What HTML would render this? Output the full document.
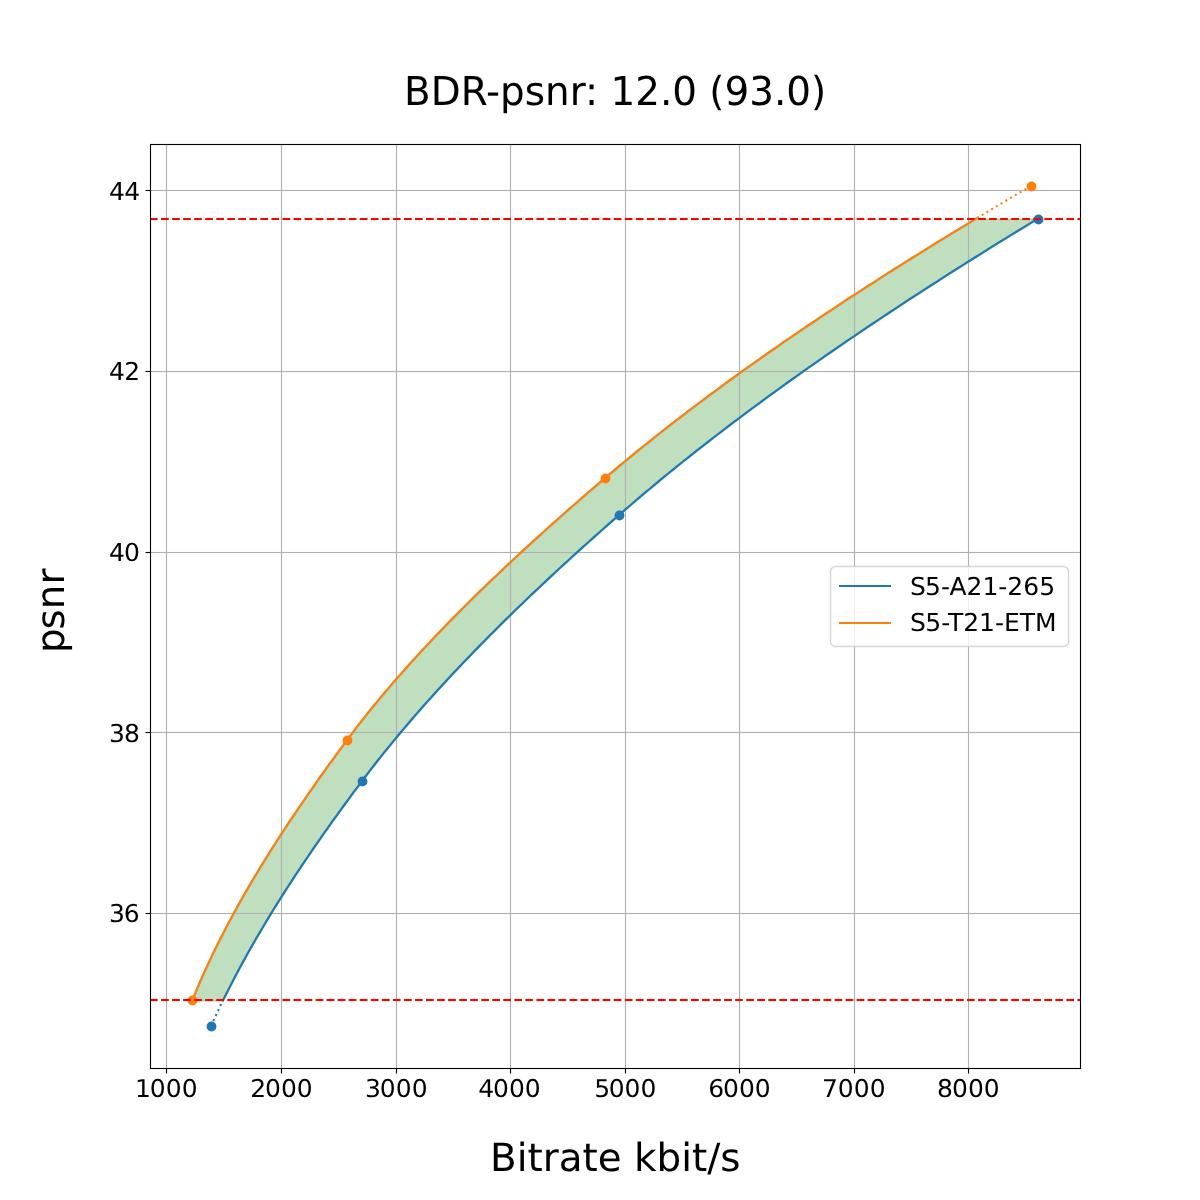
<!DOCTYPE html>
<html lang="en"><head><meta charset="utf-8"><title>BDR-psnr: 12.0 (93.0)</title>
<style>html,body{margin:0;padding:0;background:#fff;width:1200px;height:1200px;overflow:hidden}</style></head>
<body>
<svg width="1200" height="1200" viewBox="0 0 1200 1200" style="display:block;position:absolute;left:0;top:0" font-family="'DejaVu Sans', 'Liberation Sans', sans-serif" fill="#000" text-rendering="geometricPrecision">
<rect x="0" y="0" width="1200" height="1200" fill="#fff"/>
<defs><clipPath id="ax"><rect x="150" y="144" width="930" height="924"/></clipPath></defs>
<polygon points="192.27,1000.40 193.85,996.47 195.47,992.54 197.11,988.62 198.77,984.69 200.47,980.76 202.19,976.83 203.95,972.90 205.72,968.97 207.53,965.05 209.36,961.12 211.22,957.19 213.10,953.26 215.01,949.33 216.94,945.41 218.90,941.48 220.88,937.55 222.89,933.62 224.93,929.69 226.98,925.77 229.07,921.84 231.17,917.91 233.30,913.98 235.45,910.05 237.62,906.12 239.82,902.20 242.04,898.27 244.28,894.34 246.54,890.41 248.83,886.48 251.13,882.56 253.46,878.63 255.81,874.70 258.17,870.77 260.56,866.84 262.97,862.92 265.40,858.99 267.85,855.06 270.31,851.13 272.80,847.20 275.30,843.27 277.83,839.35 280.37,835.42 282.93,831.49 285.50,827.56 288.10,823.63 290.71,819.71 293.34,815.78 295.98,811.85 298.64,807.92 301.32,803.99 304.02,800.06 306.73,796.14 309.45,792.21 312.19,788.28 314.94,784.35 317.71,780.42 320.50,776.50 323.29,772.57 326.11,768.64 328.93,764.71 331.77,760.78 334.62,756.86 337.49,752.93 340.36,749.00 343.25,745.07 346.15,741.14 349.07,737.21 352.03,733.29 355.01,729.36 358.04,725.43 361.09,721.50 364.18,717.57 367.31,713.65 370.47,709.72 373.66,705.79 376.88,701.86 380.14,697.93 383.43,694.01 386.75,690.08 390.10,686.15 393.48,682.22 396.90,678.29 400.34,674.36 403.82,670.44 407.32,666.51 410.86,662.58 414.42,658.65 418.02,654.72 421.64,650.80 425.29,646.87 428.97,642.94 432.68,639.01 436.41,635.08 440.18,631.15 443.96,627.23 447.78,623.30 451.62,619.37 455.49,615.44 459.39,611.51 463.31,607.59 467.25,603.66 471.22,599.73 475.22,595.80 479.24,591.87 483.28,587.95 487.35,584.02 491.44,580.09 495.55,576.16 499.69,572.23 503.85,568.30 508.03,564.38 512.24,560.45 516.46,556.52 520.71,552.59 524.98,548.66 529.26,544.74 533.57,540.81 537.90,536.88 542.25,532.95 546.62,529.02 551.01,525.09 555.41,521.17 559.84,517.24 564.28,513.31 568.74,509.38 573.22,505.45 577.72,501.53 582.23,497.60 586.76,493.67 591.31,489.74 595.88,485.81 600.45,481.89 605.05,477.96 609.67,474.03 614.32,470.10 619.01,466.17 623.73,462.24 628.49,458.32 633.28,454.39 638.10,450.46 642.96,446.53 647.85,442.60 652.77,438.68 657.72,434.75 662.71,430.82 667.73,426.89 672.78,422.96 677.86,419.04 682.98,415.11 688.13,411.18 693.30,407.25 698.51,403.32 703.76,399.39 709.03,395.47 714.33,391.54 719.67,387.61 725.03,383.68 730.43,379.75 735.85,375.83 741.31,371.90 746.79,367.97 752.31,364.04 757.86,360.11 763.43,356.18 769.03,352.26 774.67,348.33 780.33,344.40 786.02,340.47 791.74,336.54 797.49,332.62 803.27,328.69 809.07,324.76 814.91,320.83 820.77,316.90 826.66,312.98 832.57,309.05 838.52,305.12 844.49,301.19 850.49,297.26 856.51,293.33 862.57,289.41 868.65,285.48 874.75,281.55 880.88,277.62 887.04,273.69 893.23,269.77 899.44,265.84 905.67,261.91 911.93,257.98 918.22,254.05 924.53,250.13 930.87,246.20 937.23,242.27 943.62,238.34 950.03,234.41 956.46,230.48 962.92,226.56 969.41,222.63 975.92,218.70 1037.73,218.70 1031.26,222.63 1024.82,226.56 1018.40,230.48 1011.99,234.41 1005.61,238.34 999.25,242.27 992.92,246.20 986.60,250.13 980.31,254.05 974.04,257.98 967.79,261.91 961.56,265.84 955.36,269.77 949.18,273.69 943.02,277.62 936.89,281.55 930.78,285.48 924.69,289.41 918.63,293.33 912.59,297.26 906.57,301.19 900.58,305.12 894.61,309.05 888.67,312.98 882.75,316.90 876.85,320.83 870.98,324.76 865.14,328.69 859.32,332.62 853.52,336.54 847.75,340.47 842.00,344.40 836.28,348.33 830.59,352.26 824.92,356.18 819.28,360.11 813.66,364.04 808.07,367.97 802.51,371.90 796.97,375.83 791.46,379.75 785.98,383.68 780.52,387.61 775.09,391.54 769.69,395.47 764.31,399.39 758.96,403.32 753.64,407.25 748.35,411.18 743.09,415.11 737.85,419.04 732.64,422.96 727.46,426.89 722.31,430.82 717.19,434.75 712.09,438.68 707.03,442.60 701.99,446.53 696.98,450.46 692.00,454.39 687.05,458.32 682.13,462.24 677.24,466.17 672.38,470.10 667.55,474.03 662.75,477.96 657.99,481.89 653.25,485.81 648.54,489.74 643.86,493.67 639.21,497.60 634.60,501.53 630.01,505.45 625.46,509.38 620.94,513.31 616.44,517.24 611.97,521.17 607.51,525.09 603.06,529.02 598.64,532.95 594.23,536.88 589.84,540.81 585.47,544.74 581.11,548.66 576.77,552.59 572.45,556.52 568.15,560.45 563.87,564.38 559.60,568.30 555.35,572.23 551.13,576.16 546.92,580.09 542.73,584.02 538.56,587.95 534.41,591.87 530.28,595.80 526.18,599.73 522.09,603.66 518.02,607.59 513.97,611.51 509.95,615.44 505.94,619.37 501.96,623.30 498.00,627.23 494.06,631.15 490.14,635.08 486.25,639.01 482.37,642.94 478.52,646.87 474.69,650.80 470.89,654.72 467.11,658.65 463.35,662.58 459.61,666.51 455.90,670.44 452.22,674.36 448.55,678.29 444.91,682.22 441.30,686.15 437.71,690.08 434.15,694.01 430.61,697.93 427.09,701.86 423.60,705.79 420.14,709.72 416.70,713.65 413.29,717.57 409.91,721.50 406.55,725.43 403.22,729.36 399.92,733.29 396.64,737.21 393.39,741.14 390.17,745.07 386.97,749.00 383.80,752.93 380.67,756.86 377.55,760.78 374.47,764.71 371.42,768.64 368.39,772.57 365.40,776.50 362.43,780.42 359.49,784.35 356.56,788.28 353.64,792.21 350.74,796.14 347.85,800.06 344.97,803.99 342.11,807.92 339.26,811.85 336.42,815.78 333.60,819.71 330.80,823.63 328.01,827.56 325.23,831.49 322.47,835.42 319.73,839.35 317.00,843.27 314.28,847.20 311.59,851.13 308.91,855.06 306.24,858.99 303.59,862.92 300.96,866.84 298.35,870.77 295.75,874.70 293.17,878.63 290.61,882.56 288.07,886.48 285.54,890.41 283.03,894.34 280.55,898.27 278.08,902.20 275.62,906.12 273.19,910.05 270.78,913.98 268.39,917.91 266.01,921.84 263.66,925.77 261.33,929.69 259.02,933.62 256.72,937.55 254.45,941.48 252.20,945.41 249.97,949.33 247.76,953.26 245.58,957.19 243.41,961.12 241.27,965.05 239.15,968.97 237.05,972.90 234.98,976.83 232.93,980.76 230.90,984.69 228.89,988.62 226.91,992.54 224.95,996.47 223.01,1000.40" fill="#008000" fill-opacity="0.25" stroke="#008000" stroke-opacity="0.25" stroke-width="1.389" stroke-linejoin="miter" transform="translate(0.5 0.5)"/>
<g stroke="#b0b0b0" stroke-width="1.111" fill="none"><line x1="166.5" y1="144" x2="166.5" y2="1068"/><line x1="281.5" y1="144" x2="281.5" y2="1068"/><line x1="396.5" y1="144" x2="396.5" y2="1068"/><line x1="510.5" y1="144" x2="510.5" y2="1068"/><line x1="625.5" y1="144" x2="625.5" y2="1068"/><line x1="739.5" y1="144" x2="739.5" y2="1068"/><line x1="854.5" y1="144" x2="854.5" y2="1068"/><line x1="968.5" y1="144" x2="968.5" y2="1068"/><rect x="150" y="189.9445" width="930" height="1.111" fill="#b0b0b0" stroke="none"/><rect x="150" y="370.9445" width="930" height="1.111" fill="#b0b0b0" stroke="none"/><rect x="150" y="551.9445" width="930" height="1.111" fill="#b0b0b0" stroke="none"/><rect x="150" y="731.9445" width="930" height="1.111" fill="#b0b0b0" stroke="none"/><rect x="150" y="912.9445" width="930" height="1.111" fill="#b0b0b0" stroke="none"/></g>
<g stroke="#000" stroke-width="1.111" fill="none"><line x1="166.5" y1="1068" x2="166.5" y2="1073.5"/><line x1="281.5" y1="1068" x2="281.5" y2="1073.5"/><line x1="396.5" y1="1068" x2="396.5" y2="1073.5"/><line x1="510.5" y1="1068" x2="510.5" y2="1073.5"/><line x1="625.5" y1="1068" x2="625.5" y2="1073.5"/><line x1="739.5" y1="1068" x2="739.5" y2="1073.5"/><line x1="854.5" y1="1068" x2="854.5" y2="1073.5"/><line x1="968.5" y1="1068" x2="968.5" y2="1073.5"/><line x1="150" y1="190.5" x2="145.5" y2="190.5"/><line x1="150" y1="371.5" x2="145.5" y2="371.5"/><line x1="150" y1="552.5" x2="145.5" y2="552.5"/><line x1="150" y1="732.5" x2="145.5" y2="732.5"/><line x1="150" y1="913.5" x2="145.5" y2="913.5"/></g>
<g clip-path="url(#ax)" fill="none" stroke-width="2.083" stroke-linejoin="round">
<polyline points="223.01,1000.40 224.95,996.47 226.91,992.54 228.89,988.62 230.90,984.69 232.93,980.76 234.98,976.83 237.05,972.90 239.15,968.97 241.27,965.05 243.41,961.12 245.58,957.19 247.76,953.26 249.97,949.33 252.20,945.41 254.45,941.48 256.72,937.55 259.02,933.62 261.33,929.69 263.66,925.77 266.01,921.84 268.39,917.91 270.78,913.98 273.19,910.05 275.62,906.12 278.08,902.20 280.55,898.27 283.03,894.34 285.54,890.41 288.07,886.48 290.61,882.56 293.17,878.63 295.75,874.70 298.35,870.77 300.96,866.84 303.59,862.92 306.24,858.99 308.91,855.06 311.59,851.13 314.28,847.20 317.00,843.27 319.73,839.35 322.47,835.42 325.23,831.49 328.01,827.56 330.80,823.63 333.60,819.71 336.42,815.78 339.26,811.85 342.11,807.92 344.97,803.99 347.85,800.06 350.74,796.14 353.64,792.21 356.56,788.28 359.49,784.35 362.43,780.42 365.40,776.50 368.39,772.57 371.42,768.64 374.47,764.71 377.55,760.78 380.67,756.86 383.80,752.93 386.97,749.00 390.17,745.07 393.39,741.14 396.64,737.21 399.92,733.29 403.22,729.36 406.55,725.43 409.91,721.50 413.29,717.57 416.70,713.65 420.14,709.72 423.60,705.79 427.09,701.86 430.61,697.93 434.15,694.01 437.71,690.08 441.30,686.15 444.91,682.22 448.55,678.29 452.22,674.36 455.90,670.44 459.61,666.51 463.35,662.58 467.11,658.65 470.89,654.72 474.69,650.80 478.52,646.87 482.37,642.94 486.25,639.01 490.14,635.08 494.06,631.15 498.00,627.23 501.96,623.30 505.94,619.37 509.95,615.44 513.97,611.51 518.02,607.59 522.09,603.66 526.18,599.73 530.28,595.80 534.41,591.87 538.56,587.95 542.73,584.02 546.92,580.09 551.13,576.16 555.35,572.23 559.60,568.30 563.87,564.38 568.15,560.45 572.45,556.52 576.77,552.59 581.11,548.66 585.47,544.74 589.84,540.81 594.23,536.88 598.64,532.95 603.06,529.02 607.51,525.09 611.97,521.17 616.44,517.24 620.94,513.31 625.46,509.38 630.01,505.45 634.60,501.53 639.21,497.60 643.86,493.67 648.54,489.74 653.25,485.81 657.99,481.89 662.75,477.96 667.55,474.03 672.38,470.10 677.24,466.17 682.13,462.24 687.05,458.32 692.00,454.39 696.98,450.46 701.99,446.53 707.03,442.60 712.09,438.68 717.19,434.75 722.31,430.82 727.46,426.89 732.64,422.96 737.85,419.04 743.09,415.11 748.35,411.18 753.64,407.25 758.96,403.32 764.31,399.39 769.69,395.47 775.09,391.54 780.52,387.61 785.98,383.68 791.46,379.75 796.97,375.83 802.51,371.90 808.07,367.97 813.66,364.04 819.28,360.11 824.92,356.18 830.59,352.26 836.28,348.33 842.00,344.40 847.75,340.47 853.52,336.54 859.32,332.62 865.14,328.69 870.98,324.76 876.85,320.83 882.75,316.90 888.67,312.98 894.61,309.05 900.58,305.12 906.57,301.19 912.59,297.26 918.63,293.33 924.69,289.41 930.78,285.48 936.89,281.55 943.02,277.62 949.18,273.69 955.36,269.77 961.56,265.84 967.79,261.91 974.04,257.98 980.31,254.05 986.60,250.13 992.92,246.20 999.25,242.27 1005.61,238.34 1011.99,234.41 1018.40,230.48 1024.82,226.56 1031.26,222.63 1037.73,218.70" stroke="#1f77b4" stroke-width="2.17" stroke-linecap="square"/>
<polyline points="192.27,1000.40 193.85,996.47 195.47,992.54 197.11,988.62 198.77,984.69 200.47,980.76 202.19,976.83 203.95,972.90 205.72,968.97 207.53,965.05 209.36,961.12 211.22,957.19 213.10,953.26 215.01,949.33 216.94,945.41 218.90,941.48 220.88,937.55 222.89,933.62 224.93,929.69 226.98,925.77 229.07,921.84 231.17,917.91 233.30,913.98 235.45,910.05 237.62,906.12 239.82,902.20 242.04,898.27 244.28,894.34 246.54,890.41 248.83,886.48 251.13,882.56 253.46,878.63 255.81,874.70 258.17,870.77 260.56,866.84 262.97,862.92 265.40,858.99 267.85,855.06 270.31,851.13 272.80,847.20 275.30,843.27 277.83,839.35 280.37,835.42 282.93,831.49 285.50,827.56 288.10,823.63 290.71,819.71 293.34,815.78 295.98,811.85 298.64,807.92 301.32,803.99 304.02,800.06 306.73,796.14 309.45,792.21 312.19,788.28 314.94,784.35 317.71,780.42 320.50,776.50 323.29,772.57 326.11,768.64 328.93,764.71 331.77,760.78 334.62,756.86 337.49,752.93 340.36,749.00 343.25,745.07 346.15,741.14 349.07,737.21 352.03,733.29 355.01,729.36 358.04,725.43 361.09,721.50 364.18,717.57 367.31,713.65 370.47,709.72 373.66,705.79 376.88,701.86 380.14,697.93 383.43,694.01 386.75,690.08 390.10,686.15 393.48,682.22 396.90,678.29 400.34,674.36 403.82,670.44 407.32,666.51 410.86,662.58 414.42,658.65 418.02,654.72 421.64,650.80 425.29,646.87 428.97,642.94 432.68,639.01 436.41,635.08 440.18,631.15 443.96,627.23 447.78,623.30 451.62,619.37 455.49,615.44 459.39,611.51 463.31,607.59 467.25,603.66 471.22,599.73 475.22,595.80 479.24,591.87 483.28,587.95 487.35,584.02 491.44,580.09 495.55,576.16 499.69,572.23 503.85,568.30 508.03,564.38 512.24,560.45 516.46,556.52 520.71,552.59 524.98,548.66 529.26,544.74 533.57,540.81 537.90,536.88 542.25,532.95 546.62,529.02 551.01,525.09 555.41,521.17 559.84,517.24 564.28,513.31 568.74,509.38 573.22,505.45 577.72,501.53 582.23,497.60 586.76,493.67 591.31,489.74 595.88,485.81 600.45,481.89 605.05,477.96 609.67,474.03 614.32,470.10 619.01,466.17 623.73,462.24 628.49,458.32 633.28,454.39 638.10,450.46 642.96,446.53 647.85,442.60 652.77,438.68 657.72,434.75 662.71,430.82 667.73,426.89 672.78,422.96 677.86,419.04 682.98,415.11 688.13,411.18 693.30,407.25 698.51,403.32 703.76,399.39 709.03,395.47 714.33,391.54 719.67,387.61 725.03,383.68 730.43,379.75 735.85,375.83 741.31,371.90 746.79,367.97 752.31,364.04 757.86,360.11 763.43,356.18 769.03,352.26 774.67,348.33 780.33,344.40 786.02,340.47 791.74,336.54 797.49,332.62 803.27,328.69 809.07,324.76 814.91,320.83 820.77,316.90 826.66,312.98 832.57,309.05 838.52,305.12 844.49,301.19 850.49,297.26 856.51,293.33 862.57,289.41 868.65,285.48 874.75,281.55 880.88,277.62 887.04,273.69 893.23,269.77 899.44,265.84 905.67,261.91 911.93,257.98 918.22,254.05 924.53,250.13 930.87,246.20 937.23,242.27 943.62,238.34 950.03,234.41 956.46,230.48 962.92,226.56 969.41,222.63 975.92,218.70" stroke="#ff7f0e" stroke-width="2.17" stroke-linecap="square"/>
<polyline points="211.00,1026.00 211.61,1024.65 212.21,1023.31 212.83,1021.96 213.44,1020.61 214.06,1019.26 214.68,1017.92 215.30,1016.57 215.93,1015.22 216.56,1013.87 217.19,1012.53 217.83,1011.18 218.47,1009.83 219.11,1008.48 219.75,1007.14 220.40,1005.79 221.05,1004.44 221.70,1003.09 222.36,1001.75 223.01,1000.40" stroke="#1f77b4" stroke-dasharray="2.083 3.4375"/>
<polyline points="1031.00,186.00 1028.06,187.72 1025.13,189.44 1022.20,191.16 1019.27,192.88 1016.35,194.61 1013.43,196.33 1010.52,198.05 1007.61,199.77 1004.71,201.49 1001.81,203.21 998.91,204.93 996.02,206.65 993.14,208.37 990.26,210.09 987.38,211.82 984.51,213.54 981.64,215.26 978.77,216.98 975.92,218.70" stroke="#ff7f0e" stroke-dasharray="2.083 3.4375"/>
<circle cx="211.50" cy="1026.50" r="4.91" fill="#1f77b4" stroke="none"/>
<circle cx="362.50" cy="781.50" r="4.91" fill="#1f77b4" stroke="none"/>
<circle cx="619.50" cy="515.50" r="4.91" fill="#1f77b4" stroke="none"/>
<circle cx="1038.50" cy="219.50" r="4.91" fill="#1f77b4" stroke="none"/>
<circle cx="192.50" cy="1000.50" r="4.91" fill="#ff7f0e" stroke="none"/>
<circle cx="347.50" cy="740.50" r="4.91" fill="#ff7f0e" stroke="none"/>
<circle cx="605.50" cy="478.50" r="4.91" fill="#ff7f0e" stroke="none"/>
<circle cx="1031.50" cy="186.50" r="4.91" fill="#ff7f0e" stroke="none"/>
<g fill="#ff0000" stroke="none"><rect x="150.000" y="217.9585" width="7.708" height="2.083"/><rect x="161.041" y="217.9585" width="7.708" height="2.083"/><rect x="172.082" y="217.9585" width="7.708" height="2.083"/><rect x="183.123" y="217.9585" width="7.708" height="2.083"/><rect x="194.164" y="217.9585" width="7.708" height="2.083"/><rect x="205.205" y="217.9585" width="7.708" height="2.083"/><rect x="216.246" y="217.9585" width="7.708" height="2.083"/><rect x="227.287" y="217.9585" width="7.708" height="2.083"/><rect x="238.328" y="217.9585" width="7.708" height="2.083"/><rect x="249.369" y="217.9585" width="7.708" height="2.083"/><rect x="260.410" y="217.9585" width="7.708" height="2.083"/><rect x="271.451" y="217.9585" width="7.708" height="2.083"/><rect x="282.492" y="217.9585" width="7.708" height="2.083"/><rect x="293.533" y="217.9585" width="7.708" height="2.083"/><rect x="304.574" y="217.9585" width="7.708" height="2.083"/><rect x="315.615" y="217.9585" width="7.708" height="2.083"/><rect x="326.656" y="217.9585" width="7.708" height="2.083"/><rect x="337.697" y="217.9585" width="7.708" height="2.083"/><rect x="348.738" y="217.9585" width="7.708" height="2.083"/><rect x="359.779" y="217.9585" width="7.708" height="2.083"/><rect x="370.820" y="217.9585" width="7.708" height="2.083"/><rect x="381.861" y="217.9585" width="7.708" height="2.083"/><rect x="392.902" y="217.9585" width="7.708" height="2.083"/><rect x="403.943" y="217.9585" width="7.708" height="2.083"/><rect x="414.984" y="217.9585" width="7.708" height="2.083"/><rect x="426.025" y="217.9585" width="7.708" height="2.083"/><rect x="437.066" y="217.9585" width="7.708" height="2.083"/><rect x="448.107" y="217.9585" width="7.708" height="2.083"/><rect x="459.148" y="217.9585" width="7.708" height="2.083"/><rect x="470.189" y="217.9585" width="7.708" height="2.083"/><rect x="481.230" y="217.9585" width="7.708" height="2.083"/><rect x="492.271" y="217.9585" width="7.708" height="2.083"/><rect x="503.312" y="217.9585" width="7.708" height="2.083"/><rect x="514.353" y="217.9585" width="7.708" height="2.083"/><rect x="525.394" y="217.9585" width="7.708" height="2.083"/><rect x="536.435" y="217.9585" width="7.708" height="2.083"/><rect x="547.476" y="217.9585" width="7.708" height="2.083"/><rect x="558.517" y="217.9585" width="7.708" height="2.083"/><rect x="569.558" y="217.9585" width="7.708" height="2.083"/><rect x="580.599" y="217.9585" width="7.708" height="2.083"/><rect x="591.640" y="217.9585" width="7.708" height="2.083"/><rect x="602.681" y="217.9585" width="7.708" height="2.083"/><rect x="613.722" y="217.9585" width="7.708" height="2.083"/><rect x="624.763" y="217.9585" width="7.708" height="2.083"/><rect x="635.804" y="217.9585" width="7.708" height="2.083"/><rect x="646.845" y="217.9585" width="7.708" height="2.083"/><rect x="657.886" y="217.9585" width="7.708" height="2.083"/><rect x="668.927" y="217.9585" width="7.708" height="2.083"/><rect x="679.968" y="217.9585" width="7.708" height="2.083"/><rect x="691.009" y="217.9585" width="7.708" height="2.083"/><rect x="702.050" y="217.9585" width="7.708" height="2.083"/><rect x="713.091" y="217.9585" width="7.708" height="2.083"/><rect x="724.132" y="217.9585" width="7.708" height="2.083"/><rect x="735.173" y="217.9585" width="7.708" height="2.083"/><rect x="746.214" y="217.9585" width="7.708" height="2.083"/><rect x="757.255" y="217.9585" width="7.708" height="2.083"/><rect x="768.296" y="217.9585" width="7.708" height="2.083"/><rect x="779.337" y="217.9585" width="7.708" height="2.083"/><rect x="790.378" y="217.9585" width="7.708" height="2.083"/><rect x="801.419" y="217.9585" width="7.708" height="2.083"/><rect x="812.460" y="217.9585" width="7.708" height="2.083"/><rect x="823.501" y="217.9585" width="7.708" height="2.083"/><rect x="834.542" y="217.9585" width="7.708" height="2.083"/><rect x="845.583" y="217.9585" width="7.708" height="2.083"/><rect x="856.624" y="217.9585" width="7.708" height="2.083"/><rect x="867.665" y="217.9585" width="7.708" height="2.083"/><rect x="878.706" y="217.9585" width="7.708" height="2.083"/><rect x="889.747" y="217.9585" width="7.708" height="2.083"/><rect x="900.788" y="217.9585" width="7.708" height="2.083"/><rect x="911.829" y="217.9585" width="7.708" height="2.083"/><rect x="922.870" y="217.9585" width="7.708" height="2.083"/><rect x="933.911" y="217.9585" width="7.708" height="2.083"/><rect x="944.952" y="217.9585" width="7.708" height="2.083"/><rect x="955.993" y="217.9585" width="7.708" height="2.083"/><rect x="967.034" y="217.9585" width="7.708" height="2.083"/><rect x="978.075" y="217.9585" width="7.708" height="2.083"/><rect x="989.116" y="217.9585" width="7.708" height="2.083"/><rect x="1000.157" y="217.9585" width="7.708" height="2.083"/><rect x="1011.198" y="217.9585" width="7.708" height="2.083"/><rect x="1022.239" y="217.9585" width="7.708" height="2.083"/><rect x="1033.280" y="217.9585" width="7.708" height="2.083"/><rect x="1044.321" y="217.9585" width="7.708" height="2.083"/><rect x="1055.362" y="217.9585" width="7.708" height="2.083"/><rect x="1066.403" y="217.9585" width="7.708" height="2.083"/><rect x="1077.444" y="217.9585" width="2.556" height="2.083"/></g>
<g fill="#ff0000" stroke="none"><rect x="150.000" y="998.9585" width="7.708" height="2.083"/><rect x="161.041" y="998.9585" width="7.708" height="2.083"/><rect x="172.082" y="998.9585" width="7.708" height="2.083"/><rect x="183.123" y="998.9585" width="7.708" height="2.083"/><rect x="194.164" y="998.9585" width="7.708" height="2.083"/><rect x="205.205" y="998.9585" width="7.708" height="2.083"/><rect x="216.246" y="998.9585" width="7.708" height="2.083"/><rect x="227.287" y="998.9585" width="7.708" height="2.083"/><rect x="238.328" y="998.9585" width="7.708" height="2.083"/><rect x="249.369" y="998.9585" width="7.708" height="2.083"/><rect x="260.410" y="998.9585" width="7.708" height="2.083"/><rect x="271.451" y="998.9585" width="7.708" height="2.083"/><rect x="282.492" y="998.9585" width="7.708" height="2.083"/><rect x="293.533" y="998.9585" width="7.708" height="2.083"/><rect x="304.574" y="998.9585" width="7.708" height="2.083"/><rect x="315.615" y="998.9585" width="7.708" height="2.083"/><rect x="326.656" y="998.9585" width="7.708" height="2.083"/><rect x="337.697" y="998.9585" width="7.708" height="2.083"/><rect x="348.738" y="998.9585" width="7.708" height="2.083"/><rect x="359.779" y="998.9585" width="7.708" height="2.083"/><rect x="370.820" y="998.9585" width="7.708" height="2.083"/><rect x="381.861" y="998.9585" width="7.708" height="2.083"/><rect x="392.902" y="998.9585" width="7.708" height="2.083"/><rect x="403.943" y="998.9585" width="7.708" height="2.083"/><rect x="414.984" y="998.9585" width="7.708" height="2.083"/><rect x="426.025" y="998.9585" width="7.708" height="2.083"/><rect x="437.066" y="998.9585" width="7.708" height="2.083"/><rect x="448.107" y="998.9585" width="7.708" height="2.083"/><rect x="459.148" y="998.9585" width="7.708" height="2.083"/><rect x="470.189" y="998.9585" width="7.708" height="2.083"/><rect x="481.230" y="998.9585" width="7.708" height="2.083"/><rect x="492.271" y="998.9585" width="7.708" height="2.083"/><rect x="503.312" y="998.9585" width="7.708" height="2.083"/><rect x="514.353" y="998.9585" width="7.708" height="2.083"/><rect x="525.394" y="998.9585" width="7.708" height="2.083"/><rect x="536.435" y="998.9585" width="7.708" height="2.083"/><rect x="547.476" y="998.9585" width="7.708" height="2.083"/><rect x="558.517" y="998.9585" width="7.708" height="2.083"/><rect x="569.558" y="998.9585" width="7.708" height="2.083"/><rect x="580.599" y="998.9585" width="7.708" height="2.083"/><rect x="591.640" y="998.9585" width="7.708" height="2.083"/><rect x="602.681" y="998.9585" width="7.708" height="2.083"/><rect x="613.722" y="998.9585" width="7.708" height="2.083"/><rect x="624.763" y="998.9585" width="7.708" height="2.083"/><rect x="635.804" y="998.9585" width="7.708" height="2.083"/><rect x="646.845" y="998.9585" width="7.708" height="2.083"/><rect x="657.886" y="998.9585" width="7.708" height="2.083"/><rect x="668.927" y="998.9585" width="7.708" height="2.083"/><rect x="679.968" y="998.9585" width="7.708" height="2.083"/><rect x="691.009" y="998.9585" width="7.708" height="2.083"/><rect x="702.050" y="998.9585" width="7.708" height="2.083"/><rect x="713.091" y="998.9585" width="7.708" height="2.083"/><rect x="724.132" y="998.9585" width="7.708" height="2.083"/><rect x="735.173" y="998.9585" width="7.708" height="2.083"/><rect x="746.214" y="998.9585" width="7.708" height="2.083"/><rect x="757.255" y="998.9585" width="7.708" height="2.083"/><rect x="768.296" y="998.9585" width="7.708" height="2.083"/><rect x="779.337" y="998.9585" width="7.708" height="2.083"/><rect x="790.378" y="998.9585" width="7.708" height="2.083"/><rect x="801.419" y="998.9585" width="7.708" height="2.083"/><rect x="812.460" y="998.9585" width="7.708" height="2.083"/><rect x="823.501" y="998.9585" width="7.708" height="2.083"/><rect x="834.542" y="998.9585" width="7.708" height="2.083"/><rect x="845.583" y="998.9585" width="7.708" height="2.083"/><rect x="856.624" y="998.9585" width="7.708" height="2.083"/><rect x="867.665" y="998.9585" width="7.708" height="2.083"/><rect x="878.706" y="998.9585" width="7.708" height="2.083"/><rect x="889.747" y="998.9585" width="7.708" height="2.083"/><rect x="900.788" y="998.9585" width="7.708" height="2.083"/><rect x="911.829" y="998.9585" width="7.708" height="2.083"/><rect x="922.870" y="998.9585" width="7.708" height="2.083"/><rect x="933.911" y="998.9585" width="7.708" height="2.083"/><rect x="944.952" y="998.9585" width="7.708" height="2.083"/><rect x="955.993" y="998.9585" width="7.708" height="2.083"/><rect x="967.034" y="998.9585" width="7.708" height="2.083"/><rect x="978.075" y="998.9585" width="7.708" height="2.083"/><rect x="989.116" y="998.9585" width="7.708" height="2.083"/><rect x="1000.157" y="998.9585" width="7.708" height="2.083"/><rect x="1011.198" y="998.9585" width="7.708" height="2.083"/><rect x="1022.239" y="998.9585" width="7.708" height="2.083"/><rect x="1033.280" y="998.9585" width="7.708" height="2.083"/><rect x="1044.321" y="998.9585" width="7.708" height="2.083"/><rect x="1055.362" y="998.9585" width="7.708" height="2.083"/><rect x="1066.403" y="998.9585" width="7.708" height="2.083"/><rect x="1077.444" y="998.9585" width="2.556" height="2.083"/></g>
</g>
<rect x="150.5" y="144.5" width="930" height="924" fill="none" stroke="#000" stroke-width="1.111" stroke-linejoin="miter"/>
<text transform="translate(134.59 1097.00) scale(1.0 0.98)" font-size="25.000" text-anchor="start" dx="0.37 -1.02">1000</text>
<text transform="translate(249.59 1097.00) scale(1.0 0.98)" font-size="25.000" text-anchor="start" dx="0.55 -1.00">2000</text>
<text transform="translate(364.59 1097.00) scale(1.0 0.98)" font-size="25.000" text-anchor="start" dx="0.54 -1.19">3000</text>
<text transform="translate(478.59 1097.00) scale(1.0 0.98)" font-size="25.000" text-anchor="start" dx="-0.46 -0.99">4000</text>
<text transform="translate(593.59 1097.00) scale(1.0 0.98)" font-size="25.000" text-anchor="start" dx="0.55 -1.32">5000</text>
<text transform="translate(707.59 1097.00) scale(1.0 0.98)" font-size="25.000" text-anchor="start" dx="0.60 -1.05">6000</text>
<text transform="translate(822.59 1097.00) scale(1.0 0.98)" font-size="25.000" text-anchor="start" dx="-0.56 -0.09">7000</text>
<text transform="translate(936.59 1097.00) scale(1.0 0.98)" font-size="25.000" text-anchor="start" dx="0.41 -0.86">8000</text>
<text transform="translate(108.49 199.50) scale(1.0 0.987)" font-size="25.000" text-anchor="start" dx="0.54 -0.74">44</text>
<text transform="translate(108.49 379.70) scale(1.0 0.987)" font-size="25.000" text-anchor="start" dx="0.54 -0.73">42</text>
<text transform="translate(108.49 560.70) scale(1.0 0.987)" font-size="25.000" text-anchor="start" dx="0.54 -0.94">40</text>
<text transform="translate(108.49 741.50) scale(1.0 0.987)" font-size="25.000" text-anchor="start" dx="0.54 -1.02">38</text>
<text transform="translate(108.49 921.50) scale(1.0 0.987)" font-size="25.000" text-anchor="start" dx="0.54 -1.07">36</text>
<text transform="translate(615.15 104.75) scale(1.0 1.023)" font-size="38.889" text-anchor="middle">BDR-psnr: 12.0 (93.0)</text>
<text transform="translate(615.30 1171.00)" font-size="38.889" text-anchor="middle">Bitrate kbit/s</text>
<text transform="translate(64.30 610.05) rotate(-90)" font-size="38.889" text-anchor="middle" dx="-0.72 -1.18">psnr</text>
<rect x="830.5" y="566.5" width="238" height="80" rx="5" ry="5" fill="#fff" fill-opacity="0.8" stroke="#cccccc" stroke-opacity="0.8" stroke-width="1.389"/>
<line x1="840" y1="586" x2="890" y2="586" stroke="#1f77b4" stroke-width="2.083" stroke-linecap="square"/>
<line x1="840" y1="623" x2="890" y2="623" stroke="#ff7f0e" stroke-width="2.083" stroke-linecap="square"/>
<text transform="translate(910.00 595.10) scale(1.0 0.987)" font-size="25.000" text-anchor="start" dx="0.00 -0.80">S5-A21-265</text>
<text transform="translate(910.00 631.20) scale(1.0 0.987)" font-size="25.000" text-anchor="start" dx="0.00 -0.60">S5-T21-ETM</text>
</svg>
</body></html>
